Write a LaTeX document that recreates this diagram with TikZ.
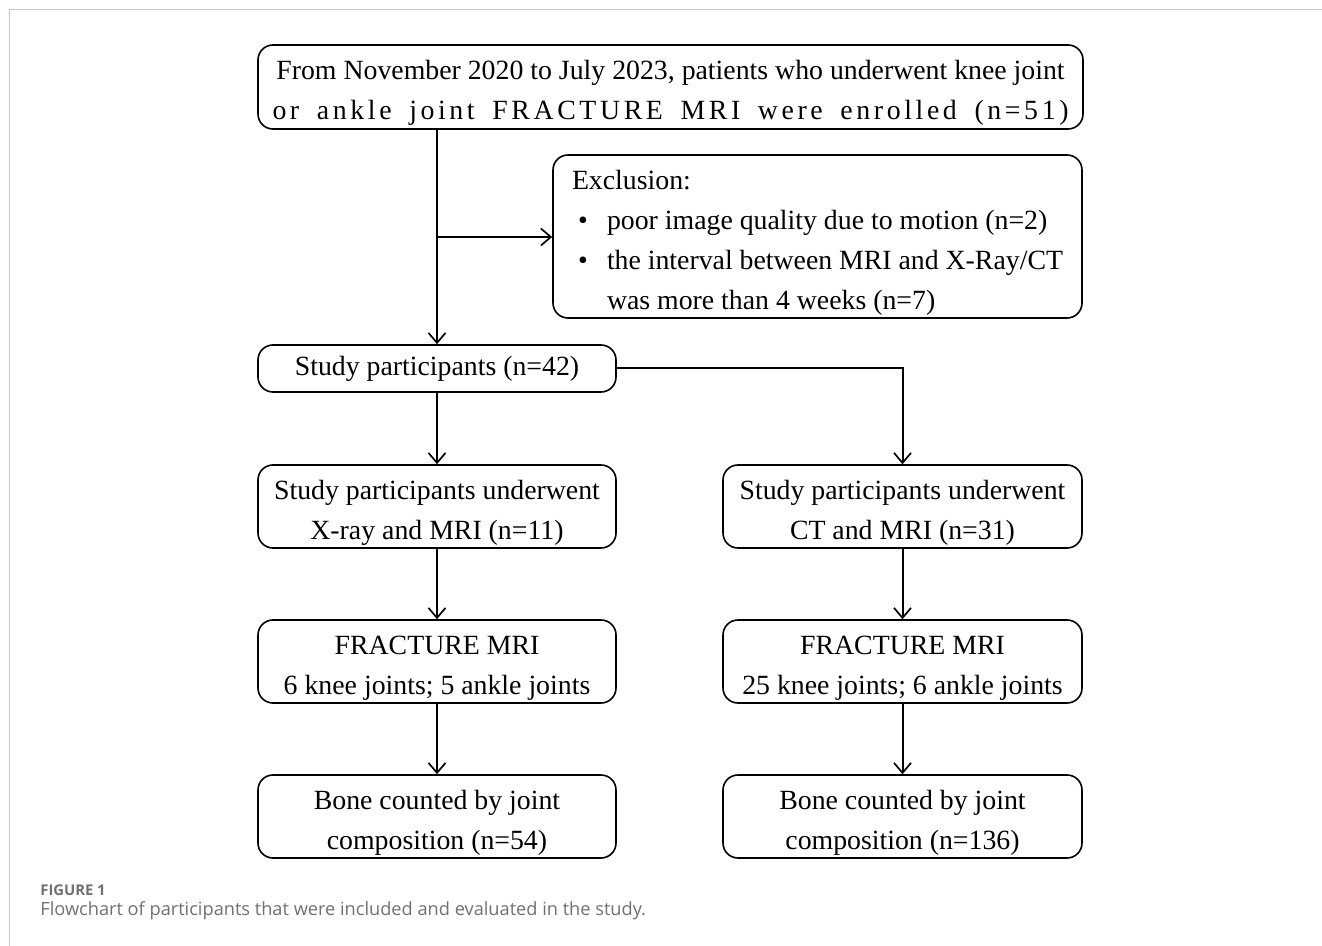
\documentclass[tikz,border=0pt]{standalone}
\usepackage{fontspec}
\setmainfont{Liberation Serif}
\newfontfamily\capfont{Open Sans}
\usetikzlibrary{arrows.meta}
\definecolor{framegray}{HTML}{C8C8C8}
\definecolor{capgray}{HTML}{707070}
\tikzset{
  box/.style={draw, rounded corners=7.5pt, line width=0.8pt, inner sep=0pt, align=flush center,
    font=\fontsize{13.9}{20}\selectfont},
  conn/.style={line width=1pt, -{Straight Barb[length=5pt,width=8.5pt,line width=0.85pt]}},
}
\newcommand{\upstrut}{\rule{0pt}{15.5pt}}
\begin{document}
\begin{tikzpicture}[x=0.5pt,y=-0.5pt]
\useasboundingbox (0,0) rectangle (1322,946);
\draw[framegray, line width=0.7pt] (9.5,946) -- (9.5,9.5) -- (1322,9.5);

% nodes
\node[box, minimum width=412.5pt, minimum height=42pt] (top) at (670.5,87)
  {\upstrut From November 2020 to July 2023, patients who underwent knee joint\\
   \makebox[398pt][s]{\addfontfeatures{LetterSpace=13}or ankle joint FRACTURE MRI were enrolled (n=51)}};
\node[box, minimum width=264.5pt, minimum height=81.5pt, text width=245.5pt, align=flush left] (excl) at (817.5,236.5)
  {\upstrut Exclusion:\\
   \makebox[17.5pt][l]{\hspace{3pt}\textbullet}poor image quality due to motion (n=2)\\
   \makebox[17.5pt][l]{\hspace{3pt}\textbullet}the interval between MRI and X-Ray/CT\\
   \hspace*{17.5pt}was more than 4 weeks (n=7)};
\node[box, minimum width=179pt, minimum height=23.5pt] (sp) at (437,368.5) {Study participants (n=42)};
\node[box, minimum width=179pt, minimum height=41.5pt] (xr) at (437,506.5)
  {\upstrut Study participants underwent\\X-ray and MRI (n=11)};
\node[box, minimum width=179.5pt, minimum height=41.5pt] (ct) at (902.5,506.5)
  {\upstrut Study participants underwent\\CT and MRI (n=31)};
\node[box, minimum width=179pt, minimum height=41.5pt] (fl) at (437,661.5)
  {\upstrut FRACTURE MRI\\6 knee joints; 5 ankle joints};
\node[box, minimum width=179.5pt, minimum height=41.5pt] (fr) at (902.5,661.5)
  {\upstrut FRACTURE MRI\\25 knee joints; 6 ankle joints};
\node[box, minimum width=179pt, minimum height=41.5pt] (bl) at (437,816.5)
  {\upstrut Bone counted by joint\\composition (n=54)};
\node[box, minimum width=179.5pt, minimum height=41.5pt] (br) at (902.5,816.5)
  {\upstrut Bone counted by joint\\composition (n=136)};

% connectors
\coordinate (j) at (437,237);
\draw[conn] (top.south -| j) -- (sp.north -| j);
\draw[conn] (j) -- (j -| excl.west);
\draw[conn] (sp.east) -| (ct.north);
\draw[conn] (sp.south) -- (xr.north);
\draw[conn] (xr.south) -- (fl.north);
\draw[conn] (fl.south) -- (bl.north);
\draw[conn] (ct.south) -- (fr.north);
\draw[conn] (fr.south) -- (br.north);

% caption
\node[anchor=base west, inner sep=0pt, text=capgray, font=\capfont\bfseries\fontsize{7.4}{9}\selectfont] (figlbl) at (40,895) {FIGURE 1};
\node[anchor=base west, inner sep=0pt, text=capgray, font=\capfont\fontsize{9.1}{11}\selectfont] (cap) at (40,915) {Flowchart of participants that were included and evaluated in the study.};
\end{tikzpicture}
\end{document}
